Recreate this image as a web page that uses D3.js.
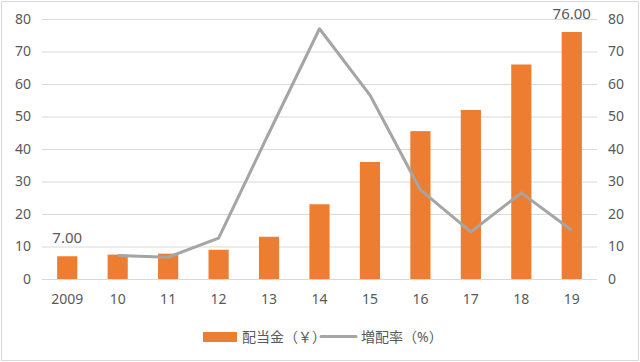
<!DOCTYPE html>
<html>
<head>
<meta charset="utf-8">
<script src="https://cdn.jsdelivr.net/npm/d3@7"></script>
<style>
  body { margin: 0; background: #fff; }
  text { font-family: "Noto Sans", "Noto Sans CJK JP", sans-serif; fill: #595959; }
</style>
</head>
<body>
<svg id="chart"></svg>
<script>
var years = ["2009", "10", "11", "12", "13", "14", "15", "16", "17", "18", "19"];
var dividend = [7, 7.5, 7.8, 9, 13, 23, 36, 45.5, 52, 66, 76];
var growth = [null, 7.2, 6.7, 12.6, 45, 77, 56.6, 27.4, 14.5, 26.5, 15];
var ticks = [0, 10, 20, 30, 40, 50, 60, 70, 80];

var width = 640, height = 362;
var svg = d3.select("#chart").attr("width", width).attr("height", height);

svg.append("rect")
  .attr("x", 1.5).attr("y", 1.5)
  .attr("width", width - 3).attr("height", height - 3)
  .attr("fill", "#fff").attr("stroke", "#d9d9d9");

var x = d3.scaleBand().domain(years).range([42, 597]).paddingInner(0.6).paddingOuter(0.3);
var y = d3.scaleLinear().domain([0, 80]).range([279, 19]);

// gridlines
svg.append("g").selectAll("line").data(ticks).enter().append("line")
  .attr("x1", 42).attr("x2", 597)
  .attr("y1", d => y(d) + 0.5).attr("y2", d => y(d) + 0.5)
  .attr("stroke", "#d9d9d9").attr("stroke-width", 1);

// axes labels
var leftAxis = d3.axisLeft(y).tickValues(ticks).tickSize(0).tickPadding(0);
var gl = svg.append("g").attr("transform", "translate(31,0)").call(leftAxis);
gl.select(".domain").remove();
gl.selectAll("text").style("font-size", "14px").attr("fill", "#595959");

var rightAxis = d3.axisRight(y).tickValues(ticks).tickSize(0).tickPadding(0);
var gr = svg.append("g").attr("transform", "translate(608,0)").call(rightAxis);
gr.select(".domain").remove();
gr.selectAll("text").style("font-size", "14px").attr("fill", "#595959");

var bottomAxis = d3.axisBottom(x).tickSize(0).tickPadding(0);
var gb = svg.append("g").attr("transform", "translate(0,294)").call(bottomAxis);
gb.select(".domain").remove();
gb.selectAll("text").style("font-size", "14px").attr("fill", "#595959");

// bars
svg.append("g").selectAll("rect").data(dividend).enter().append("rect")
  .attr("x", (d, i) => x(years[i]))
  .attr("y", d => y(d))
  .attr("width", x.bandwidth())
  .attr("height", d => y(0) - y(d))
  .attr("fill", "#ed7d31");

// line
var line = d3.line()
  .defined(d => d != null)
  .x((d, i) => x(years[i]) + x.bandwidth() / 2)
  .y(d => y(d));
svg.append("path").datum(growth)
  .attr("d", line)
  .attr("fill", "none")
  .attr("stroke", "#a5a5a5")
  .attr("stroke-width", 3)
  .attr("stroke-linejoin", "round");

// data labels for first and last bar
[0, dividend.length - 1].forEach(function(i) {
  svg.append("text")
    .attr("x", x(years[i]) + x.bandwidth() / 2)
    .attr("y", y(dividend[i]) - 13)
    .attr("text-anchor", "middle")
    .style("font-size", "15px")
    .attr("fill", "#404040")
    .text(dividend[i].toFixed(2));
});

// legend
var lg = svg.append("g");
lg.append("rect").attr("x", 203).attr("y", 332).attr("width", 34).attr("height", 10).attr("fill", "#ed7d31");
lg.append("text").attr("x", 242).attr("y", 342).style("font-size", "14px").text("配当金（￥）");
lg.append("line").attr("x1", 321).attr("x2", 356).attr("y1", 336.5).attr("y2", 336.5)
  .attr("stroke", "#a5a5a5").attr("stroke-width", 3).attr("stroke-linecap", "round");
lg.append("text").attr("x", 361).attr("y", 342).style("font-size", "14px").text("増配率（%）");
</script>
</body>
</html>
